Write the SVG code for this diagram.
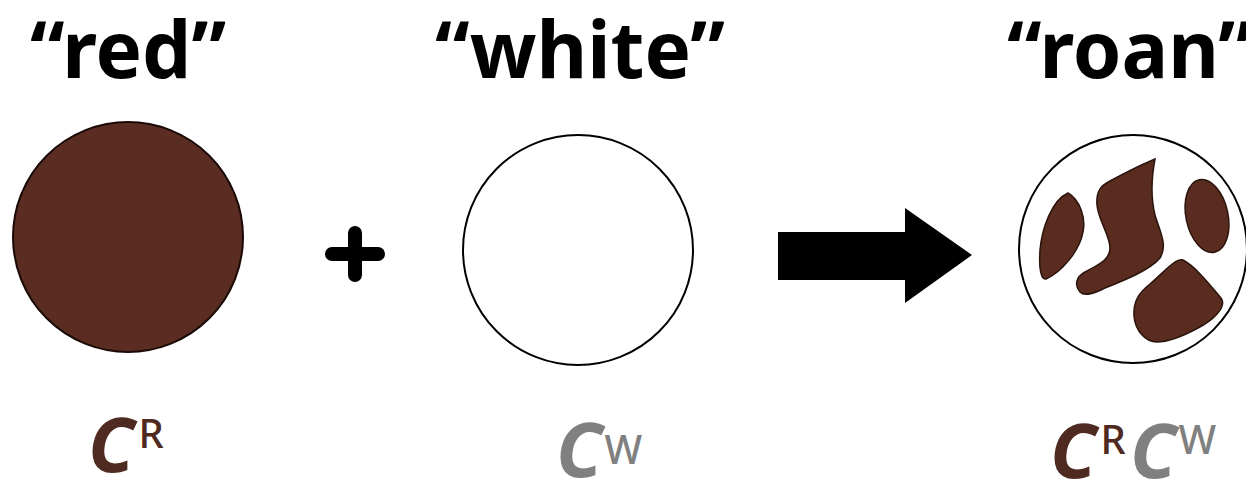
<svg xmlns="http://www.w3.org/2000/svg" width="1246" height="490" viewBox="0 0 1246 490">
<style>
.title{font-family:"Comic Sans MS","Noto Sans","DejaVu Sans",sans-serif;font-weight:bold;font-size:78px;fill:#000;text-anchor:middle}
.allele{font-family:"Noto Sans","DejaVu Sans",sans-serif;font-weight:bold;font-style:italic;font-size:76px}
.sup{font-family:"Noto Sans","DejaVu Sans",sans-serif;font-weight:500;font-size:40px}
.brown{fill:#4e2a20}
.gray{fill:#808080}
.blob{fill:#5a2c1f;stroke:#2a140c;stroke-width:1.5}
</style>
<rect width="1246" height="490" fill="#fff"/>
<g id="red">
<text class="title" x="128" y="78">“red”</text>
<circle cx="128" cy="237" r="115" fill="#5a2c22" stroke="#1a0a06" stroke-width="2"/>
<text x="88" y="472"><tspan class="allele brown">C</tspan><tspan class="sup brown" dx="4" dy="-24">R</tspan></text>
</g>
<g id="plus">
<path d="M332 254H378M355 233V275" stroke="#000" stroke-width="14" stroke-linecap="round" fill="none"/>
</g>
<g id="white">
<text class="title" x="580" y="78">“white”</text>
<circle cx="578" cy="250" r="115" fill="#fff" stroke="#000" stroke-width="2"/>
<text x="556" y="477"><tspan class="allele gray">C</tspan><tspan class="sup gray" dx="2" dy="-13">W</tspan></text>
</g>
<g id="connectors">
<polygon points="778,232 905,232 905,208 972,255 905,303 905,280 778,280" fill="#000"/>
</g>
<g id="roan">
<text class="title" x="1130" y="78">“roan”</text>
<circle cx="1133" cy="249" r="114" fill="#fff" stroke="#000" stroke-width="2"/>
<path class="blob" d="M1068,193 C1080,200 1086,218 1083,232 C1080,250 1062,272 1046,279 C1040,280 1039,265 1040,250 C1042,228 1052,200 1068,193 Z"/>
<path class="blob" d="M1155,159 C1152,175 1150,195 1155,215 C1160,232 1168,245 1160,258 C1150,270 1125,280 1105,288 C1095,293 1085,297 1080,292 C1074,285 1076,277 1085,272 C1098,265 1110,260 1110,248 C1110,235 1098,220 1097,205 C1096,192 1100,186 1110,181 C1125,173 1145,163 1155,159 Z"/>
<ellipse class="blob" cx="1207" cy="216" rx="21" ry="37" transform="rotate(-12 1207 216)"/>
<path class="blob" d="M1183,260 C1195,266 1210,285 1221,298 C1228,308 1210,322 1198,328 C1185,335 1168,342 1157,342 C1145,342 1135,330 1134,316 C1133,300 1140,292 1150,284 C1162,274 1175,258 1183,260 Z"/>
<text x="1050" y="478"><tspan class="allele brown">C</tspan><tspan class="sup brown" dx="4" dy="-24">R</tspan><tspan class="allele gray" dx="4" dy="24">C</tspan><tspan class="sup gray" dx="2" dy="-24">W</tspan></text>
</g>
</svg>
